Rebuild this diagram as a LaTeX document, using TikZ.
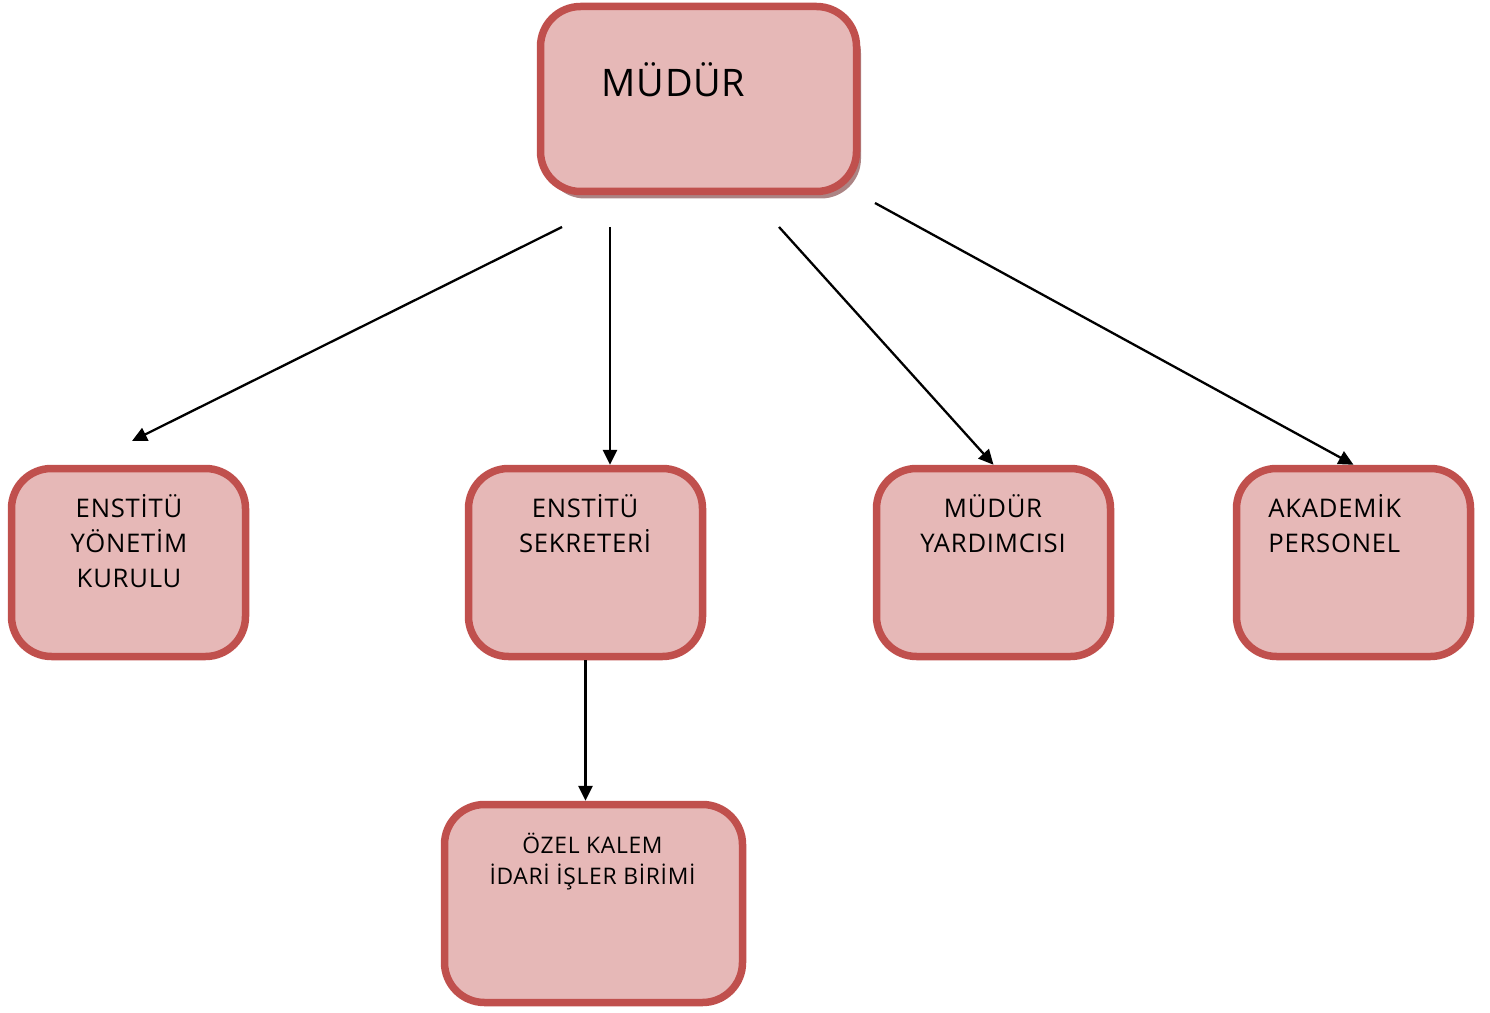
\documentclass[tikz,border=0pt]{standalone}
\usepackage{fontspec}
\setmainfont{Open Sans}
\newfontfamily\boxfont[LetterSpace=3]{Open Sans}
\newfontfamily\bigfont[LetterSpace=2]{Open Sans}
\usetikzlibrary{arrows.meta,shadows}
\newlength\px \setlength\px{0.02cm}
\definecolor{boxline}{RGB}{192,80,77}
\definecolor{boxfill}{RGB}{230,184,183}
\definecolor{shadecol}{RGB}{172,132,132}
\newcommand\lines[1]{\begin{tabular}[t]{@{}c@{}}#1\end{tabular}}
\newcommand\llines[1]{\begin{tabular}[t]{@{}l@{}}#1\end{tabular}}
\begin{document}
\begin{tikzpicture}[x=1\px,y=-1\px,
  box/.style={draw=boxline,fill=boxfill,line width=7.5\px,rounded corners=40\px,
    minimum width=234\px,minimum height=188\px,inner sep=0pt},
  lbl/.style={font=\boxfont\fontsize{14.6}{20.1}\selectfont,inner sep=0pt,anchor=base},
  slbl/.style={font=\boxfont\fontsize{13}{17.7}\selectfont,inner sep=0pt,anchor=base},
  arr/.style={line width=2.3\px,-{Triangle[length=8.5pt,width=8pt]}}]
\useasboundingbox (0,0) rectangle (1490,1013);
% boxes
\node[box,minimum width=316\px,minimum height=185\px,
  drop shadow={shadow xshift=4.5\px,shadow yshift=-7\px,fill=shadecol,opacity=1,draw=none}]
  (mudur) at (698.5,99) {};
\node[box] (kurul) at (128.5,562.5) {};
\node[box] (sek) at (585.5,562.5) {};
\node[box] (yard) at (993.5,562.5) {};
\node[box] (akad) at (1353.5,562.5) {};
\node[box,minimum width=298\px,minimum height=198\px] (ozel) at (593.5,903.5) {};
% texts
\node[font=\bigfont\fontsize{21.6}{25}\selectfont,inner sep=0pt,anchor=base] (tmudur) at (673.5,97) {MÜDÜR};
\node[lbl] (tkurul) at (129,517) {\lines{ENSTİTÜ\\YÖNETİM\\KURULU}};
\node[lbl] (tsek) at (585,517) {\lines{ENSTİTÜ\\SEKRETERİ}};
\node[lbl] (tyard) at (993,517) {\lines{MÜDÜR\\YARDIMCISI}};
\node[lbl,anchor=base west] (takad) at (1268,517) {\llines{AKADEMİK\\PERSONEL}};
\node[slbl] (tozel) at (592.5,853) {\lines{ÖZEL KALEM\\İDARİ İŞLER BİRİMİ}};
% connector start points
\coordinate (s1) at (562,227);
\coordinate (s2) at (610,227);
\coordinate (s3) at (779,227);
\coordinate (s4) at (875,203);
\coordinate (e1) at (132,441);
% connectors
\draw[arr] (s1) -- (e1);
\draw[arr] (s2) -- (s2 |- sek.north);
\draw[arr] (s3) -- (yard.north);
\draw[arr] (s4) -- (akad.north);
\draw[arr] (sek.south) -- (sek.south |- ozel.north);
\end{tikzpicture}
\end{document}
